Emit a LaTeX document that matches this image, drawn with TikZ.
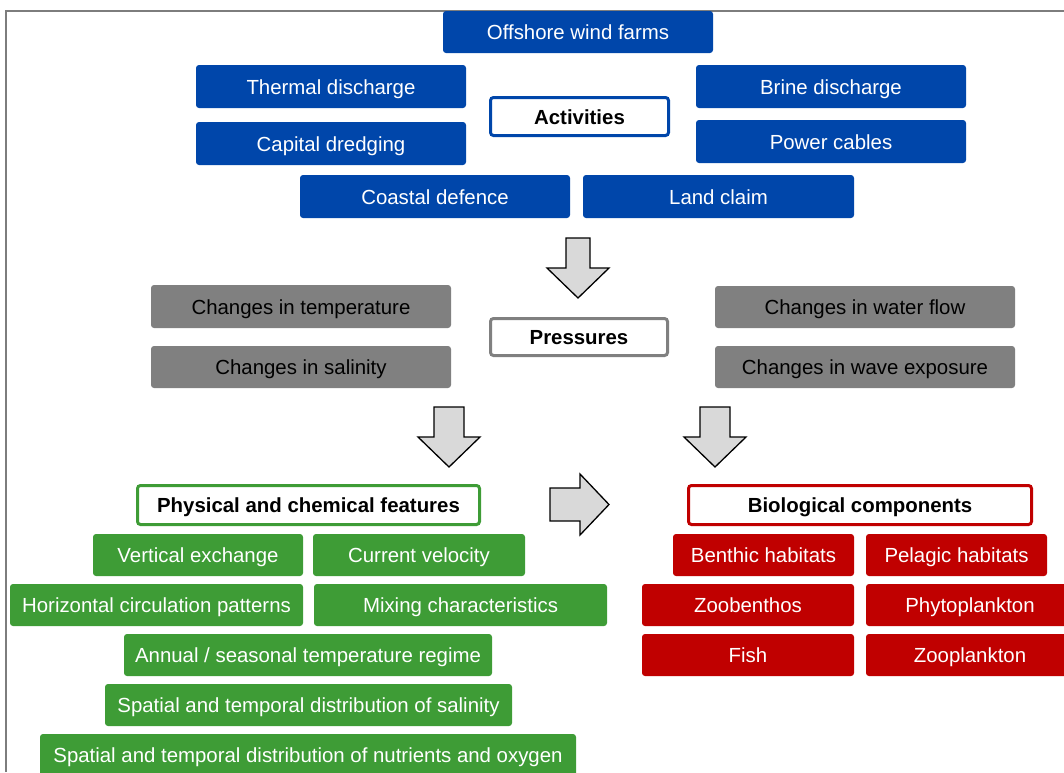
\documentclass[tikz,border=0pt]{standalone}
\usepackage{fontspec}
\setmainfont{Liberation Sans}
\begin{document}
\begin{tikzpicture}[x=1pt,y=-1pt,
  base/.style={rounded corners=3pt, inner sep=0pt, font=\fontsize{20.4}{24}\selectfont, align=center, text height=15pt, text depth=0pt},
  bluebox/.style={base, fill=actblue, text=white},
  graybox/.style={base, fill=presgray, text=black},
  greenbox/.style={base, fill=physgreen, text=white},
  redbox/.style={base, fill=biored, text=white},
  headbox/.style={base, fill=white, line width=3pt, font=\fontsize{20.4}{24}\selectfont\bfseries, text=black},
  blockarrow/.style={draw=black, fill=arrowgray, line width=1.3pt, line join=miter}
]
\definecolor{actblue}{RGB}{0,70,170}
\definecolor{presgray}{RGB}{128,128,128}
\definecolor{physgreen}{RGB}{62,156,54}
\definecolor{biored}{RGB}{192,0,0}
\definecolor{arrowgray}{RGB}{217,217,217}
\definecolor{framegray}{RGB}{125,125,125}
\useasboundingbox (0,0) rectangle (1064,772);
\begin{scope}
\clip (0,0) rectangle (1064,772);
% frame
\draw[framegray, line width=1.6pt] (6,772) -- (6,11) -- (1064,11);

% Activities
\node[bluebox, minimum width=270pt, minimum height=42pt] (off) at (578,32) {Offshore wind farms};
\node[bluebox, minimum width=270pt, minimum height=43pt] (thermal) at (331,86.5) {Thermal discharge};
\node[bluebox, minimum width=270pt, minimum height=43pt] (capital) at (331,143.5) {Capital dredging};
\node[bluebox, minimum width=270pt, minimum height=43pt] (brine) at (831,86.5) {Brine discharge};
\node[bluebox, minimum width=270pt, minimum height=43pt] (power) at (831,141.5) {Power cables};
\node[bluebox, minimum width=270pt, minimum height=43pt] (coastal) at (435,196.5) {Coastal defence};
\node[bluebox, minimum width=271pt, minimum height=43pt] (land) at (718.5,196.5) {Land claim};
\node[headbox, draw=actblue, minimum width=178pt, minimum height=38pt] (activities) at (579.5,116.5) {Activities};

% arrow 1
\draw[blockarrow] (566,238) -- (590,238) -- (590,268) -- (609,268) -- (578,298) -- (547,268) -- (566,268) -- cycle;

% Pressures
\node[graybox, minimum width=300pt, minimum height=43pt] (temp) at (301,306.5) {Changes in temperature};
\node[graybox, minimum width=300pt, minimum height=42pt] (sal) at (301,367) {Changes in salinity};
\node[graybox, minimum width=300pt, minimum height=42pt] (flow) at (865,307) {Changes in water flow};
\node[graybox, minimum width=300pt, minimum height=42pt] (wave) at (865,367) {Changes in wave exposure};
\node[headbox, draw=presgray, minimum width=177pt, minimum height=37pt] (pressures) at (579,337) {Pressures};

% arrows 2,3,4
\draw[blockarrow] (434,407) -- (464,407) -- (464,437) -- (480,437) -- (449,467) -- (418,437) -- (434,437) -- cycle;
\draw[blockarrow] (700,407) -- (730,407) -- (730,437) -- (746,437) -- (715,467) -- (684,437) -- (700,437) -- cycle;
\draw[blockarrow] (550,488) -- (580,488) -- (580,474) -- (609,504.5) -- (580,535) -- (580,521) -- (550,521) -- cycle;

% Physical and chemical features
\node[headbox, draw=physgreen, minimum width=342pt, minimum height=39pt] (phys) at (308.5,505) {Physical and chemical features};
\node[greenbox, minimum width=210pt, minimum height=42pt] (vert) at (198,555) {Vertical exchange};
\node[greenbox, minimum width=212pt, minimum height=42pt] (curr) at (419,555) {Current velocity};
\node[greenbox, minimum width=293pt, minimum height=42pt] (horiz) at (156.5,605) {Horizontal circulation patterns};
\node[greenbox, minimum width=293pt, minimum height=42pt] (mix) at (460.5,605) {Mixing characteristics};
\node[greenbox, minimum width=368pt, minimum height=42pt] (annual) at (308,655) {Annual / seasonal temperature regime};
\node[greenbox, minimum width=407pt, minimum height=42pt] (salin) at (308.5,705) {Spatial and temporal distribution of salinity};
\node[greenbox, minimum width=536pt, minimum height=42pt] (nutr) at (308,755) {Spatial and temporal distribution of nutrients and oxygen};

% Biological components
\node[headbox, draw=biored, minimum width=343pt, minimum height=39pt] (bio) at (860,505) {Biological components};
\node[redbox, minimum width=181pt, minimum height=42pt] (benthic) at (763.5,555) {Benthic habitats};
\node[redbox, minimum width=181pt, minimum height=42pt] (pelagic) at (956.5,555) {Pelagic habitats};
\node[redbox, minimum width=212pt, minimum height=42pt] (zoob) at (748,605) {Zoobenthos};
\node[redbox, minimum width=208pt, minimum height=42pt] (phyto) at (970,605) {Phytoplankton};
\node[redbox, minimum width=212pt, minimum height=42pt] (fish) at (748,655) {Fish};
\node[redbox, minimum width=208pt, minimum height=42pt] (zoopl) at (970,655) {Zooplankton};
\end{scope}
\end{tikzpicture}
\end{document}
